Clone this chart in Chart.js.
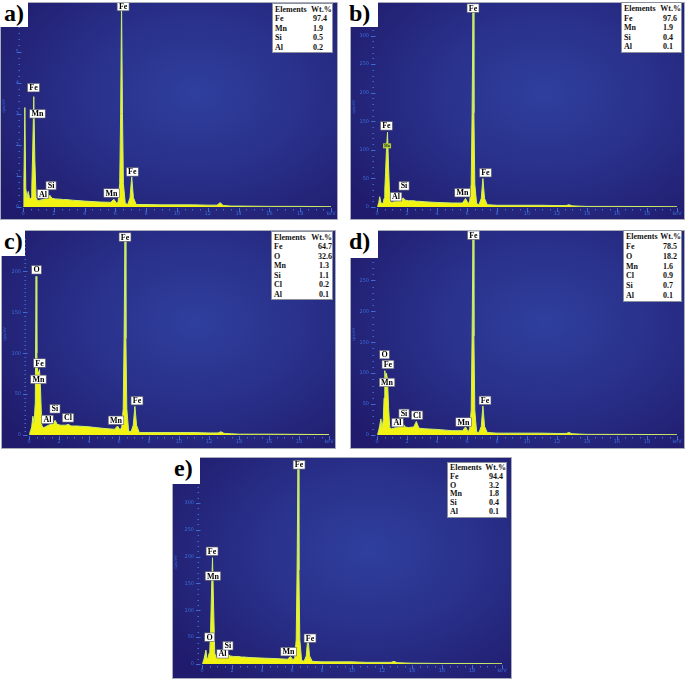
<!DOCTYPE html>
<html>
<head>
<meta charset="utf-8">
<script src="https://cdn.jsdelivr.net/npm/chart.js@4.4.1/dist/chart.umd.min.js"></script>
<style>
  body { margin: 0; background: #fff; }
  #fig { position: relative; width: 685px; height: 679px; overflow: hidden; }
  .panel { position: absolute; outline: 1px solid #a9adba;
    background: radial-gradient(ellipse 72% 78% at 58% 42%, #2f3f9d 0%, #29318b 45%, #201b6c 100%); }
  .panel canvas { position: absolute; left: 0; top: 0; }
  .tag { position: absolute; background: #fff; color: #000; box-sizing: border-box;
    font: bold 24px "Liberation Serif", serif; line-height: 24px; padding: 1px 0 0 4px; }
  .tbl { position: absolute; background: #fff; border: 1px solid #8c8f9c; box-sizing: border-box;
    font: bold 8px "Liberation Serif", serif; color: #111; padding: 1px 0 0 2px; }
  .tbl .row { display: flex; white-space: nowrap; }
  .tbl .v { padding-left: 2px; }
</style>
</head>
<body>
<div id="fig"></div>
<script>
// energy axis (keV), shared by all five spectra
const energy = [0, 0.06, 0.12, 0.18, 0.26, 0.34, 0.42, 0.47, 0.52, 0.57,
  0.63, 0.70, 0.77, 0.85, 0.95, 1.10, 1.30, 1.49, 1.60, 1.74,
  1.88, 2.10, 2.45, 2.62, 2.80, 3.20, 4.00, 5.00, 5.70, 5.90,
  6.08, 6.18, 6.28, 6.34, 6.40, 6.46, 6.52, 6.64, 6.80, 6.95,
  7.06, 7.17, 7.35, 8.00, 9.00, 10.0, 11.0, 12.0, 12.6, 12.8,
  13.0, 13.5, 14.0, 16.0, 18.0, 20.0];

const countsA = [0, 0.8, 3.2, 0.6, 0.3, 0.5, 0.3, 0.25, 0.3, 0.6,
  1.8, 3.55, 1.5, 0.3, 0.2, 0.22, 0.24, 0.28, 0.27, 0.38,
  0.28, 0.26, 0.25, 0.24, 0.24, 0.22, 0.19, 0.16, 0.15, 0.25,
  0.12, 0.18, 0.75, 3.0, 6.6, 3.0, 0.75, 0.12, 0.08, 0.3,
  0.97, 0.3, 0.08, 0.08, 0.07, 0.07, 0.07, 0.06, 0.06, 0.14,
  0.05, 0.03, 0.03, 0.02, 0.02, 0.01];
const countsB = [0, 3, 8, 18, 8, 6, 8, 15, 30, 60,
  100, 131, 70, 15, 8, 9, 10, 12, 12, 16,
  12, 11, 11, 10, 10, 9, 8, 7, 7, 15,
  6, 10, 40, 165, 355, 165, 40, 6, 4, 15,
  50, 15, 4, 3, 3, 3, 3, 2.5, 2.5, 4,
  2, 1.5, 1, 1, 0.8, 0.5];
const countsC = [0, 3, 6, 10, 23, 15, 40, 194, 100, 78,
  76, 80, 55, 12, 9, 10, 12, 13, 13, 18,
  13, 12, 12, 13, 11, 11, 10, 8, 7, 11,
  6, 10, 32, 118, 248, 118, 32, 5, 4, 12,
  35, 12, 3, 3, 3, 3, 3, 2.5, 2.5, 4,
  2, 1.5, 1, 1, 0.8, 0.5];
const countsD = [0, 3, 8, 15, 26, 12, 25, 60, 104, 95,
  100, 90, 45, 12, 10, 11, 12, 14, 13, 18,
  13, 12, 13, 22, 11, 10, 9, 7, 7, 13,
  5, 10, 40, 160, 330, 160, 40, 5, 4, 14,
  47, 14, 4, 3, 3, 3, 3, 2.5, 2.5, 4,
  2, 1.5, 1, 1, 0.8, 0.5];
const countsE = [0, 3, 8, 15, 26, 10, 12, 20, 25, 60,
  130, 198, 110, 20, 12, 13, 14, 15, 15, 18,
  15, 14, 14, 13, 13, 12, 11, 10, 9, 14,
  7, 12, 45, 175, 380, 175, 45, 7, 5, 15,
  52, 15, 5, 4, 4, 4, 3, 3, 3, 5,
  2.5, 2, 1.5, 1, 1, 0.5];

// labelled tick values
const xTicks = [0, 2, 4, 6, 8, 10, 12, 14, 16, 18];
const ticksA = [0, 1, 2, 3, 4, 5];
const ticksB = [0, 50, 100, 150, 200, 250, 300];
const ticksC = [0, 50, 100, 150, 200];
const ticksD = [0, 50, 100, 150, 200, 250];
const ticksE = [0, 50, 100, 150, 200, 250, 300];

// composition tables
const elemsA = ['Fe', 'Mn', 'Si', 'Al'];
const wtA = ['97.4', '1.9', '0.5', '0.2'];
const elemsB = ['Fe', 'Mn', 'Si', 'Al'];
const wtB = ['97.6', '1.9', '0.4', '0.1'];
const elemsC = ['Fe', 'O', 'Mn', 'Si', 'Cl', 'Al'];
const wtC = ['64.7', '32.6', '1.3', '1.1', '0.2', '0.1'];
const elemsD = ['Fe', 'O', 'Mn', 'Cl', 'Si', 'Al'];
const wtD = ['78.5', '18.2', '1.6', '0.9', '0.7', '0.1'];
const elemsE = ['Fe', 'O', 'Mn', 'Si', 'Al'];
const wtE = ['94.4', '3.2', '1.8', '0.4', '0.1'];

// peak tags: [element, keV, counts where the tag sits]
const peaksA = [['Fe', 6.5, 6.45], ['Fe', 0.68, 3.84], ['Mn', 0.94, 3.0], ['Al', 1.3, 0.42],
  ['Si', 1.82, 0.69], ['Mn', 5.75, 0.45], ['Fe', 7.1, 1.13]];
const peaksB = [['Fe', 6.4, 348], ['Fe', 0.63, 142], ['Mn', 0.67, 107, true], ['Al', 1.27, 18],
  ['Si', 1.8, 37], ['Mn', 5.7, 25], ['Fe', 7.23, 60]];
const peaksC = [['Fe', 6.4, 242], ['O', 0.5, 202], ['Fe', 0.7, 88], ['Mn', 0.63, 68], ['Si', 1.73, 32],
  ['Al', 1.23, 19], ['Cl', 2.6, 21], ['Mn', 5.8, 18], ['Fe', 7.2, 42]];
const peaksD = [['Fe', 6.43, 323], ['O', 0.5, 130], ['Fe', 0.73, 114], ['Mn', 0.67, 85], ['Si', 1.8, 35],
  ['Al', 1.37, 20], ['Cl', 2.67, 32], ['Mn', 5.77, 21], ['Fe', 7.2, 56]];
const peaksE = [['Fe', 6.47, 371], ['Fe', 0.67, 210], ['Mn', 0.73, 164], ['O', 0.5, 50],
  ['Al', 1.37, 19], ['Si', 1.73, 34], ['Mn', 5.77, 23], ['Fe', 7.2, 48]];

const panels = [
  { tag: 'a)', counts: countsA, yTicks: ticksA, minor: 0.2, ymax: 6.5, peaks: peaksA, elems: elemsA, wts: wtA,
    box: [1, 3, 336, 216], axisW: 22, axisH: 12, padTop: 2, padRight: 6, labPad: 4,
    tagBox: [0, 0, 28, 27], tbl: [272, 3, 61, 50, 38] },
  { tag: 'b)', counts: countsB, yTicks: ticksB, minor: 10, ymax: 350, peaks: peaksB, elems: elemsB, wts: wtB,
    box: [351, 3, 333, 216], axisW: 26, axisH: 12, padTop: 4, padRight: 7, labPad: 8,
    tagBox: [345, 0, 33, 27], tbl: [621, 2, 61, 51, 39] },
  { tag: 'c)', counts: countsC, yTicks: ticksC, minor: 5, ymax: 247, peaks: peaksC, elems: elemsC, wts: wtC,
    box: [2, 231, 333, 217], axisW: 27, axisH: 13, padTop: 2, padRight: 6, labPad: 8,
    tagBox: [0, 228, 25, 28], tbl: [271, 231, 62, 69, 45] },
  { tag: 'd)', counts: countsD, yTicks: ticksD, minor: 10, ymax: 325, peaks: peaksD, elems: elemsD, wts: wtD,
    box: [351, 231, 333, 217], axisW: 26, axisH: 13, padTop: 3, padRight: 7, labPad: 8,
    tagBox: [345, 228, 33, 30], tbl: [623, 230, 59, 72, 37] },
  { tag: 'e)', counts: countsE, yTicks: ticksE, minor: 10, ymax: 380, peaks: peaksE, elems: elemsE, wts: wtE,
    box: [173, 458, 338, 220], axisW: 29, axisH: 14, padTop: 2, padRight: 9, labPad: 8,
    tagBox: [170, 455, 30, 29], tbl: [447, 462, 60, 56, 39] }
];

const tickBlue = '#3d6cd6';

const tickMarks = {
  id: 'tickMarks',
  afterDraw(chart) {
    const { ctx, chartArea, scales } = chart;
    ctx.save();
    ctx.strokeStyle = tickBlue;
    ctx.lineWidth = 1;
    scales.y.ticks.forEach(t => {
      const y = Math.round(scales.y.getPixelForValue(t.value)) + 0.5;
      const major = t.label !== '';
      ctx.beginPath();
      ctx.moveTo(chartArea.left - (major ? 6 : 4.5), y);
      ctx.lineTo(chartArea.left - (major ? 1.5 : 3), y);
      ctx.stroke();
    });
    scales.x.ticks.forEach(t => {
      const x = Math.round(scales.x.getPixelForValue(t.value)) + 0.5;
      const major = t.label !== '';
      ctx.beginPath();
      ctx.moveTo(x, chartArea.bottom + (major ? 1 : 2));
      ctx.lineTo(x, chartArea.bottom + (major ? 5 : 3.5));
      ctx.stroke();
    });
    ctx.restore();
  }
};

function makePeakTags(items) {
  return {
    id: 'peakTags',
    afterDatasetsDraw(chart) {
      const { ctx, scales } = chart;
      ctx.save();
      ctx.textAlign = 'center';
      ctx.textBaseline = 'middle';
      items.forEach(([txt, e, c, small]) => {
        const x = scales.x.getPixelForValue(e);
        const y = scales.y.getPixelForValue(c);
        ctx.font = small ? 'bold 4px "Liberation Serif"' : 'bold 8px "Liberation Serif"';
        const w = ctx.measureText(txt).width + (small ? 2 : 3.5);
        const h = small ? 5 : 8.5;
        ctx.fillStyle = small ? '#b7cb3a' : '#fff';
        ctx.fillRect(x - w / 2, y - h / 2, w, h);
        if (!small) {
          ctx.strokeStyle = '#5a5a66';
          ctx.lineWidth = 0.6;
          ctx.strokeRect(x - w / 2, y - h / 2, w, h);
        }
        ctx.fillStyle = small ? '#1e3a22' : '#000';
        ctx.fillText(txt, x, y + 0.5);
      });
      ctx.restore();
    }
  };
}

const fig = document.getElementById('fig');

panels.forEach(p => {
  const [left, top, w, h] = p.box;
  const div = document.createElement('div');
  div.className = 'panel';
  div.style.cssText = `left:${left}px;top:${top}px;width:${w}px;height:${h}px;`;
  const canvas = document.createElement('canvas');
  canvas.width = w;
  canvas.height = h;
  canvas.style.width = w + 'px';
  canvas.style.height = h + 'px';
  div.appendChild(canvas);
  fig.appendChild(div);

  new Chart(canvas, {
    type: 'line',
    data: {
      datasets: [{
        data: energy.map((e, i) => ({ x: e, y: p.counts[i] })),
        fill: 'origin',
        backgroundColor: '#f3f311',
        borderColor: '#cdee6a',
        borderWidth: 1,
        pointRadius: 0,
        tension: 0
      }]
    },
    options: {
      responsive: false,
      animation: false,
      events: [],
      layout: { padding: { top: p.padTop, right: p.padRight, left: 0, bottom: 0 } },
      plugins: { legend: { display: false }, tooltip: { enabled: false } },
      scales: {
        x: {
          type: 'linear', min: 0, max: 20,
          border: { display: false },
          grid: { drawOnChartArea: false, drawTicks: false },
          afterBuildTicks: s => {
            const list = [];
            for (let i = 0; i <= 40; i++) list.push({ value: i * 0.5 });
            s.ticks = list;
          },
          afterFit: s => { s.height = p.axisH; s.paddingLeft = 0; s.paddingRight = 0; },
          ticks: {
            autoSkip: false, maxRotation: 0, padding: 4,
            color: tickBlue, font: { family: 'DejaVu Sans', size: 5 },
            callback: v => v === 20 ? 'keV' : (xTicks.includes(v) ? String(v) : '')
          }
        },
        y: {
          type: 'linear', min: 0, max: p.ymax,
          border: { display: false },
          grid: { drawOnChartArea: false, drawTicks: false },
          title: { display: true, text: 'cps/eV', color: tickBlue, font: { family: 'DejaVu Sans', size: 4 }, padding: 1 },
          afterBuildTicks: s => {
            const list = [];
            for (let i = 0; i * p.minor <= p.ymax - p.minor * 0.5; i++) list.push({ value: +(i * p.minor).toFixed(3) });
            s.ticks = list;
          },
          afterFit: s => { s.width = p.axisW; s.paddingTop = 0; s.paddingBottom = 0; },
          ticks: {
            autoSkip: false, padding: p.labPad,
            color: tickBlue, font: { family: 'DejaVu Sans', size: 5 },
            callback: v => p.yTicks.includes(v) ? String(v) : ''
          }
        }
      }
    },
    plugins: [tickMarks, makePeakTags(p.peaks)]
  });

  // panel letter
  const [tx, ty, tw, th] = p.tagBox;
  const tag = document.createElement('div');
  tag.className = 'tag';
  tag.style.cssText = `left:${tx}px;top:${ty}px;width:${tw}px;height:${th}px;`;
  tag.textContent = p.tag;
  fig.appendChild(tag);

  // composition table
  const [bx, by, bw, bh, col] = p.tbl;
  const tbl = document.createElement('div');
  tbl.className = 'tbl';
  const lh = (bh - 3) / (p.elems.length + 1);
  tbl.style.cssText = `left:${bx}px;top:${by}px;width:${bw}px;height:${bh}px;line-height:${lh}px;`;
  const rows = [['Elements', 'Wt.%']].concat(p.elems.map((el, i) => [el, p.wts[i]]));
  rows.forEach((r, i) => {
    const row = document.createElement('div');
    row.className = 'row';
    const a = document.createElement('span');
    a.style.width = (col - 2) + 'px';
    a.textContent = r[0];
    const b = document.createElement('span');
    if (i > 0) b.className = 'v';
    b.textContent = r[1];
    row.appendChild(a);
    row.appendChild(b);
    tbl.appendChild(row);
  });
  fig.appendChild(tbl);
});
</script>
</body>
</html>
